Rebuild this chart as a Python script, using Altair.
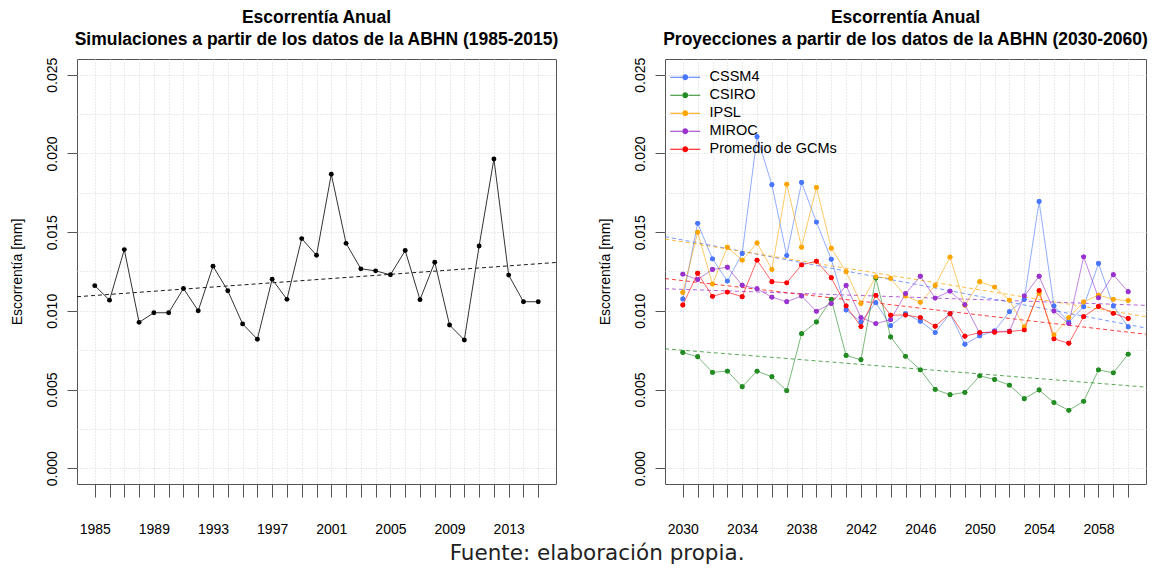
import altair as alt
import pandas as pd

# ---------------- data ----------------
hist_years = list(range(1985, 2016))
hist_vals = [0.01160, 0.01068, 0.01389, 0.00927, 0.00988, 0.00988, 0.01142, 0.01001,
             0.01284, 0.01128, 0.00917, 0.00820, 0.01201, 0.01073, 0.01459, 0.01353,
             0.01868, 0.01429, 0.01267, 0.01254, 0.01229, 0.01383, 0.01071, 0.01309,
             0.00910, 0.00815, 0.01412, 0.01965, 0.01227, 0.01058, 0.01058]

proj_years = list(range(2030, 2061))
cssm4 = [0.01075, 0.01556, 0.01330, 0.01189, 0.01364, 0.02106, 0.01801, 0.01351,
         0.01815, 0.01564, 0.01328, 0.01005, 0.00930, 0.01052, 0.00906, 0.00982,
         0.00934, 0.00862, 0.00982, 0.00788, 0.00841, 0.00872, 0.00995, 0.01073,
         0.01695, 0.01031, 0.00929, 0.01026, 0.01301, 0.01031, 0.00898]
csiro = [0.00735, 0.00708, 0.00609, 0.00617, 0.00518, 0.00617, 0.00581, 0.00493,
         0.00855, 0.00929, 0.01073, 0.00716, 0.00689, 0.01208, 0.00834, 0.00711,
         0.00625, 0.00501, 0.00467, 0.00482, 0.00587, 0.00564, 0.00528, 0.00442,
         0.00497, 0.00417, 0.00368, 0.00425, 0.00625, 0.00606, 0.00725]
ipsl = [0.01117, 0.01499, 0.01170, 0.01404, 0.01322, 0.01431, 0.01263, 0.01805,
        0.01404, 0.01784, 0.01398, 0.01248, 0.01047, 0.01216, 0.01206, 0.01094,
        0.01054, 0.01161, 0.01341, 0.01035, 0.01185, 0.01151, 0.01068, 0.00898,
        0.01111, 0.00847, 0.00957, 0.01056, 0.01100, 0.01073, 0.01065]
miroc = [0.01233, 0.01199, 0.01263, 0.01277, 0.01163, 0.01140, 0.01087, 0.01058,
         0.01094, 0.00997, 0.01047, 0.01161, 0.00957, 0.00919, 0.00944, 0.01109,
         0.01220, 0.01081, 0.01125, 0.01039, 0.00858, 0.00870, 0.00870, 0.01094,
         0.01220, 0.00999, 0.00919, 0.01343, 0.01083, 0.01229, 0.01121]
promedio = [0.01037, 0.01239, 0.01092, 0.01119, 0.01090, 0.01322, 0.01185, 0.01178,
            0.01292, 0.01315, 0.01210, 0.01031, 0.00900, 0.01098, 0.00972, 0.00974,
            0.00957, 0.00902, 0.00982, 0.00839, 0.00862, 0.00864, 0.00868, 0.00879,
            0.01128, 0.00822, 0.00794, 0.00963, 0.01028, 0.00984, 0.00951]

series_names = ["CSSM4", "CSIRO", "IPSL", "MIROC", "Promedio de GCMs"]
series_colors = ["#4876FF", "#228B22", "#FFA500", "#9A32CD", "#FF0000"]

y_grid_values = [0.0, 0.0025, 0.005, 0.0075, 0.01, 0.0125, 0.015, 0.0175, 0.02, 0.0225, 0.025]

hist_df = pd.DataFrame({"year": hist_years, "value": hist_vals})
proj_df = pd.concat([
    pd.DataFrame({"year": proj_years, "value": vals, "series": name})
    for name, vals in zip(series_names, [cssm4, csiro, ipsl, miroc, promedio])
], ignore_index=True)

FONT = "Liberation Sans"
major = "round(datum.value*400) % 2 == 0"

y_axis = alt.Axis(
    values=y_grid_values, format=".3f", title="Escorrentía [mm]",
    labelExpr=f"{major} ? datum.label : ''",
    tickOpacity={"condition": {"test": major, "value": 1}, "value": 0},
    labelAngle=-90, labelAlign="center", labelBaseline="bottom",
    labelPadding=8, tickSize=10, titlePadding=21, grid=True,
)
y_scale = alt.Scale(domain=[-0.001, 0.026], nice=False, zero=False)


def x_axis(years, rem):
    return alt.Axis(values=years, format="d", title=None, tickSize=13, labelPadding=25,
                    labelExpr=f"datum.value % 4 == {rem} ? datum.label : ''",
                    labelFlush=False, labelOverlap=False, grid=True)


def panel_title(line2):
    return alt.TitleParams(["Escorrentía Anual", line2], font=FONT, fontSize=17.5,
                           fontWeight="bold", anchor="middle", lineHeight=22,
                           offset=9, color="black")


# ---------------- left panel ----------------
xl = alt.X("year:Q", scale=alt.Scale(domain=[1983.8, 2016.2], nice=False, zero=False),
           axis=x_axis(hist_years, 1))
yl = alt.Y("value:Q", scale=y_scale, axis=y_axis)
base_l = alt.Chart(hist_df)
left = alt.layer(
    base_l.transform_regression("year", "value", extent=[1983.8, 2016.2])
    .mark_line(color="black", strokeDash=[4, 3], strokeWidth=0.9, clip=True)
    .encode(x=xl, y=yl),
    base_l.mark_line(color="#333333", strokeWidth=1).encode(x=xl, y=yl),
    base_l.mark_circle(color="black", size=24, opacity=1).encode(x=xl, y=yl),
).properties(
    width=479, height=425,
    title=panel_title("Simulaciones a partir de los datos de la ABHN (1985-2015)"),
)

# ---------------- right panel ----------------
xr = alt.X("year:Q", scale=alt.Scale(domain=[2028.8, 2061.2], nice=False, zero=False),
           axis=x_axis(proj_years, 2))
yr = alt.Y("value:Q", scale=y_scale, axis=y_axis)
cscale = alt.Scale(domain=series_names, range=series_colors)
sym = ("M-3,-0.1L-0.65,-0.1L-0.65,0.1L-3,0.1Z"
       "M0.65,-0.1L3,-0.1L3,0.1L0.65,0.1Z"
       "M0.6,0A0.6,0.6,0,1,1,-0.6,0A0.6,0.6,0,1,1,0.6,0Z")
legend = alt.Legend(title=None, orient="none", legendX=13, legendY=11, symbolType=sym,
                    symbolSize=100, symbolStrokeWidth=0, symbolOpacity=1,
                    labelFont=FONT, labelFontSize=14.5, labelColor="black",
                    labelOffset=17, rowPadding=3, padding=0)
color = alt.Color("series:N", scale=cscale, legend=legend)
base_r = alt.Chart(proj_df)
right = alt.layer(
    base_r.mark_circle(size=24, opacity=1).encode(x=xr, y=yr, color=color),
    base_r.transform_regression("year", "value", groupby=["series"], extent=[2028.8, 2061.2])
    .mark_line(strokeDash=[4, 3], strokeWidth=1, opacity=0.75, clip=True)
    .encode(x=xr, y=yr, color=color),
    base_r.mark_line(strokeWidth=1, opacity=0.6).encode(x=xr, y=yr, color=color),
    base_r.mark_circle(size=24, opacity=1).encode(x=xr, y=yr, color=color),
).properties(
    width=481, height=425,
    title=panel_title("Proyecciones a partir de los datos de la ABHN (2030-2060)"),
)

chart = alt.hconcat(
    left, right, spacing=37,
    title=alt.TitleParams("Fuente: elaboración propia.", orient="bottom", anchor="middle",
                          font="DejaVu Sans", fontSize=21.5, fontWeight="normal",
                          color="#222222", offset=6, dx=18),
).resolve_legend(color="independent").properties(
    padding={"left": 1, "top": 0, "right": 0, "bottom": 0}
).configure_axis(
    labelFont=FONT, titleFont=FONT, labelFontSize=14, titleFontSize=14,
    labelColor="black", titleColor="black", titleFontWeight="normal",
    tickColor="#555555", domain=False, gridColor="#d4d4d4", gridDash=[1, 2],
).configure_view(stroke="#555555", strokeWidth=1)

chart.save("out.html", embed_options={"renderer": "svg", "actions": False})
